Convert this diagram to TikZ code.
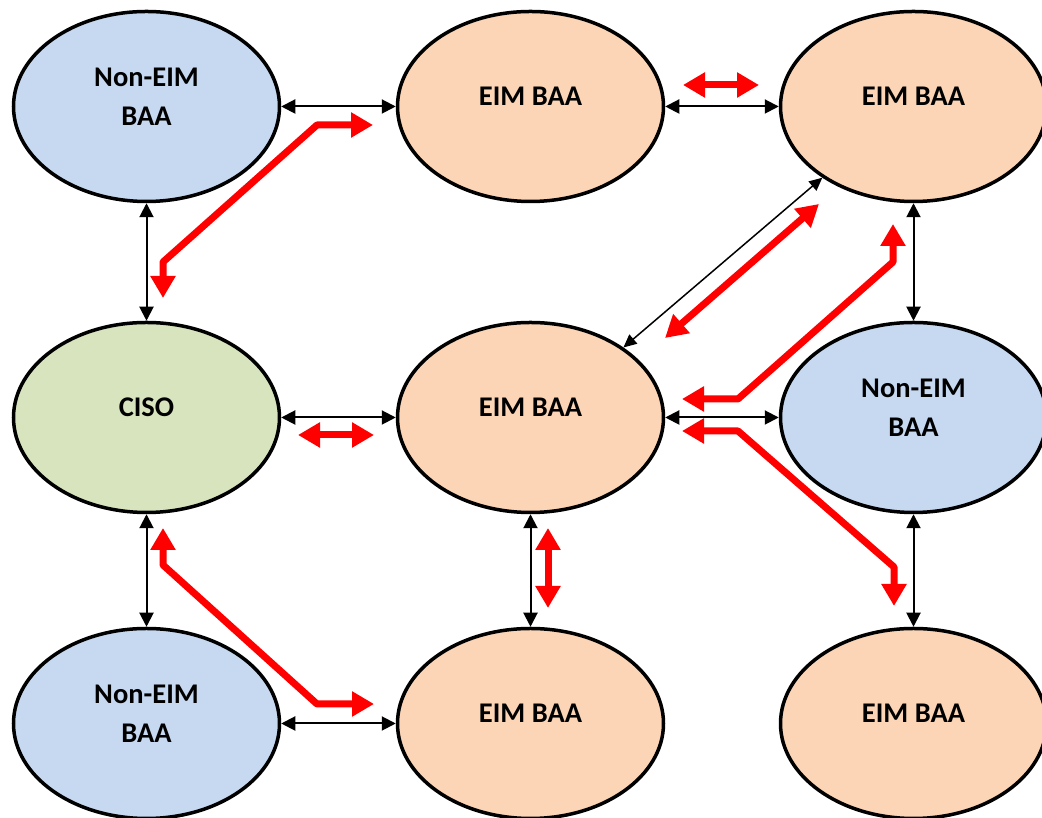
\documentclass[tikz,border=0pt]{standalone}
\usepackage{fontspec}
\setmainfont{Carlito}
\usetikzlibrary{arrows.meta,shapes.geometric,calc}
\definecolor{nonblue}{HTML}{C6D9F1}
\definecolor{eimorange}{HTML}{FBD5B5}
\definecolor{cisogreen}{HTML}{D7E4BD}
\begin{document}
\begin{tikzpicture}[x=1pt,y=1pt,
  baa/.style={ellipse, draw=black, line width=3.5pt, minimum width=266pt, minimum height=190pt, inner sep=0pt},
  lbl/.style={font=\fontsize{28.5}{39}\selectfont\bfseries, align=center, text=black},
  blk/.style={draw=black, line width=2pt, arrows={Triangle[length=14pt,width=14pt]-Triangle[length=14pt,width=14pt]}},
  blkthin/.style={draw=black, line width=1.5pt, arrows={Triangle[length=13pt,width=12pt]-Triangle[length=13pt,width=12pt]}},
  redarr/.style={draw=red, line width=7pt, line join=bevel, arrows={Triangle[length=22pt,width=24pt]-Triangle[length=22pt,width=24pt]}}
]
\useasboundingbox (0,0) rectangle (1042,818);
\clip (0,0) rectangle (1042,818);
% ellipses
\node[baa, fill=nonblue]    (tl) at (146.5,711.5) {};
\node[baa, fill=eimorange]  (tm) at (530.5,711.5) {};
\node[baa, fill=eimorange]  (tr) at (913.5,711.5) {};
\node[baa, fill=cisogreen]  (ml) at (146.5,400.5) {};
\node[baa, fill=eimorange]  (mm) at (530.5,400.5) {};
\node[baa, fill=nonblue]    (mr) at (913.5,400.5) {};
\node[baa, fill=nonblue]    (bl) at (146.5,94.5) {};
\node[baa, fill=eimorange]  (bm) at (530.5,94.5) {};
\node[baa, fill=eimorange]  (br) at (913.5,94.5) {};
% labels
\node[lbl] (tlt) at ($(tl)+(0,10)$) {Non-EIM\\BAA};
\node[lbl] (tmt) at ($(tm)+(0,10)$) {EIM BAA};
\node[lbl] (trt) at ($(tr)+(0,10)$) {EIM BAA};
\node[lbl] (mlt) at ($(ml)+(0,10)$) {CISO};
\node[lbl] (mmt) at ($(mm)+(0,10)$) {EIM BAA};
\node[lbl] (mrt) at ($(mr)+(0,10)$) {Non-EIM\\BAA};
\node[lbl] (blt) at ($(bl)+(0,10)$) {Non-EIM\\BAA};
\node[lbl] (bmt) at ($(bm)+(0,10)$) {EIM BAA};
\node[lbl] (brt) at ($(br)+(0,10)$) {EIM BAA};
% black connectors
\draw[blk] (tl.east) -- (tm.west);
\draw[blk] (tm.east) -- (tr.west);
\draw[blk] (ml.east) -- (mm.west);
\draw[blk] (mm.east) -- (mr.west);
\draw[blk] (bl.east) -- (bm.west);
\draw[blk] (tl.south) -- (ml.north);
\draw[blk] (ml.south) -- (bl.north);
\draw[blk] (mm.south) -- (bm.north);
\draw[blk] (tr.south) -- (mr.north);
\draw[blk] (mr.south) -- (br.north);
\draw[blkthin] (mm.37) -- (tr.218);
% red arrows
\draw[redarr] (683,733) -- (759,733);
\draw[redarr] (298,383) -- (374,383);
\draw[redarr] (548,290) -- (548,210);
\draw[redarr] (665,480) -- (819,614);
\draw[redarr] (163,520) -- (163,556) -- (317,693) -- (373,693);
\draw[redarr] (163,290) -- (163,253) -- (317,114) -- (374,114);
\draw[redarr] (893,594) -- (893,556) -- (738,419) -- (682,419);
\draw[redarr] (682,387) -- (738,387) -- (894,251) -- (894,212);
\end{tikzpicture}
\end{document}
